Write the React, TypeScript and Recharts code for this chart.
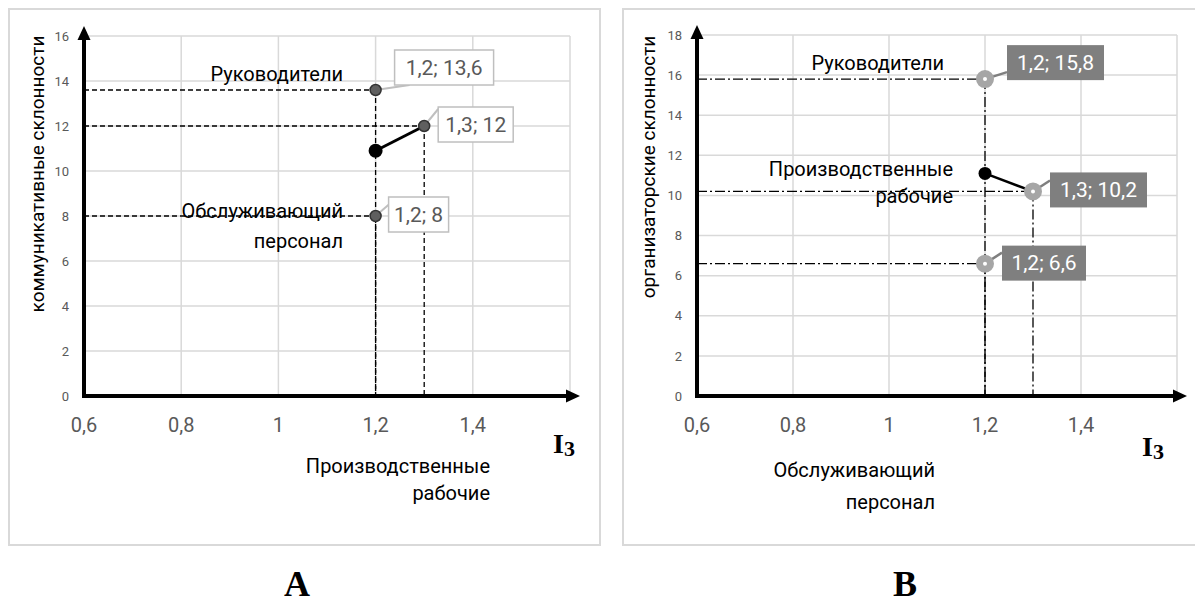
import React from 'react'
import { ScatterChart, Scatter, XAxis, YAxis, CartesianGrid, ReferenceLine } from 'recharts'

// shared axis ticks (I3 index)
const xTicks = [0.6, 0.8, 1, 1.2, 1.4, 1.6]
const yTicksA = [0, 2, 4, 6, 8, 10, 12, 14, 16]
const yTicksB = [0, 2, 4, 6, 8, 10, 12, 14, 16, 18]

// A: коммуникативные склонности
const leadersA = [{ x: 1.2, y: 13.6 }]
const workersA = [{ x: 1.2, y: 10.9 }, { x: 1.3, y: 12 }]
const serviceA = [{ x: 1.2, y: 8 }]

// B: организаторские склонности
const leadersB = [{ x: 1.2, y: 15.8 }]
const workersB = [{ x: 1.2, y: 11.1 }, { x: 1.3, y: 10.2 }]
const serviceB = [{ x: 1.2, y: 6.6 }]

const FONT = 'Roboto, "Noto Sans", sans-serif'
const SERIF = '"Liberation Serif", "DejaVu Serif", serif'
const GRAY = '#595959'

type Pt = { x: number; y: number }
const fmt = (v: number) => String(v).replace('.', ',')

// label box placement relative to the point (pixels)
type BoxCfg = { dx: number; dy: number; w: number; lx: number; ly: number }

const AxisArrow = (props: any) => {
  const { x1, y1, x2, y2 } = props
  const len = Math.hypot(x2 - x1, y2 - y1) || 1
  const ux = (x2 - x1) / len
  const uy = (y2 - y1) / len
  const tipX = x2 + ux * 10
  const tipY = y2 + uy * 10
  const bx = tipX - ux * 14
  const by = tipY - uy * 14
  const px = -uy * 6.5
  const py = ux * 6.5
  return (
    <g>
      <line x1={x1 - ux * 2} y1={y1 - uy * 2} x2={bx + ux} y2={by + uy} stroke="#000" strokeWidth={4} />
      <polygon points={`${tipX},${tipY} ${bx + px},${by + py} ${bx - px},${by - py}`} fill="#000" />
    </g>
  )
}

function makeShape(
  data: Pt[],
  labelFrom: number,
  cfg: BoxCfg,
  variant: 'A' | 'B',
  marker: (cx: number, cy: number) => React.ReactNode,
  startMarker?: (cx: number, cy: number) => React.ReactNode,
) {
  return (p: any) => {
    const pl = p.payload ?? p
    const i = data.findIndex((d) => d.x === pl.x && d.y === pl.y)
    const { cx, cy } = p
    if (i < labelFrom && startMarker) return <g>{startMarker(cx, cy)}</g>
    const text = `${fmt(pl.x)}; ${fmt(pl.y)}`
    const bx = cx + cfg.dx
    const by = cy + cfg.dy
    const h = 35
    return (
      <g>
        <line
          x1={cx}
          y1={cy}
          x2={bx + cfg.lx}
          y2={by + cfg.ly}
          stroke={variant === 'A' ? '#bfbfbf' : '#7f7f7f'}
          strokeWidth={variant === 'A' ? 2 : 2.5}
        />
        {marker(cx, cy)}
        <rect
          x={bx}
          y={by}
          width={cfg.w}
          height={h}
          fill={variant === 'A' ? '#fff' : '#7f7f7f'}
          stroke={variant === 'A' ? '#bfbfbf' : 'none'}
          strokeWidth={1.5}
        />
        <text
          x={bx + cfg.w / 2}
          y={by + h / 2}
          textAnchor="middle"
          dominantBaseline="central"
          fontFamily={FONT}
          fontSize={21}
          fill={variant === 'A' ? GRAY : '#fff'}
        >
          {text}
        </text>
      </g>
    )
  }
}

const grayDot = (cx: number, cy: number) => (
  <circle cx={cx} cy={cy} r={5.5} fill="#5f5f5f" stroke="#333" strokeWidth={1.5} />
)
const blackDot = (r: number) => (cx: number, cy: number) => <circle cx={cx} cy={cy} r={r} fill="#000" />
const ring = (cx: number, cy: number) => (
  <circle cx={cx} cy={cy} r={5.5} fill="#fff" stroke="#a6a6a6" strokeWidth={7} />
)

function dropLines(points: Pt[], dash: string, color: string) {
  const out: React.ReactNode[] = []
  points.forEach((pt, i) => {
    out.push(
      <ReferenceLine
        key={`h${i}`}
        segment={[{ x: 0.6, y: pt.y }, { x: pt.x, y: pt.y }]}
        stroke={color}
        strokeWidth={1.3}
        strokeDasharray={dash}
      />,
    )
    out.push(
      <ReferenceLine
        key={`v${i}`}
        segment={[{ x: pt.x, y: pt.y }, { x: pt.x, y: 0 }]}
        stroke={color}
        strokeWidth={1.3}
        strokeDasharray={dash}
      />,
    )
  })
  return out
}

type PanelProps = {
  left: number
  width: number
  margin: { top: number; right: number; bottom: number; left: number }
  yTicks: number[]
  yMax: number
  leaders: Pt[]
  workers: Pt[]
  service: Pt[]
  variant: 'A' | 'B'
}

function Panel({ left, width, margin, yTicks, yMax, leaders, workers, service, variant }: PanelProps) {
  const dash = variant === 'A' ? '5 3' : '10 3 2 3'
  const drops = [...leaders, workers[workers.length - 1], ...service]
  const isA = variant === 'A'
  const cfgLead: BoxCfg = isA ? { dx: 19, dy: -40, w: 99, lx: 15, ly: 35 } : { dx: 22, dy: -34, w: 97, lx: 0, ly: 27 }
  const cfgWork: BoxCfg = isA ? { dx: 14, dy: -19, w: 75, lx: 0, ly: 2 } : { dx: 17, dy: -19, w: 97, lx: 0, ly: 8 }
  const cfgServ: BoxCfg = isA ? { dx: 13, dy: -19, w: 60, lx: 2, ly: 6 } : { dx: 17, dy: -18, w: 84, lx: 0, ly: 7 }
  const marker = isA ? grayDot : ring
  return (
    <div style={{ position: 'absolute', left, top: 0, width, height: 538 }}>
      <div
        style={{
          position: 'absolute',
          inset: 0,
          border: '2px solid #d9d9d9',
          boxSizing: 'border-box',
        }}
      />
      <div style={{ position: 'absolute', left: 0, top: 0 }}>
        <ScatterChart width={width} height={538} margin={margin}>
          <CartesianGrid stroke="#d9d9d9" strokeWidth={1.5} />
          <XAxis
            type="number"
            dataKey="x"
            domain={[0.6, 1.6]}
            ticks={xTicks}
            interval={0}
            tickLine={false}
            axisLine={false}
            tickSize={0}
            tickMargin={22}
            height={30}
            tickFormatter={(v: number) => (v >= 1.6 ? '' : fmt(v))}
            tick={{ fill: GRAY, fontSize: 20, fontFamily: FONT }}
          />
          <YAxis
            type="number"
            dataKey="y"
            domain={[0, yMax]}
            ticks={yTicks}
            interval={0}
            tickLine={false}
            axisLine={false}
            tickSize={0}
            tickMargin={15}
            width={40}
            tick={{ fill: GRAY, fontSize: 13, fontFamily: FONT }}
          />
          {dropLines(drops, dash, '#000')}
          <ReferenceLine segment={[{ x: 0.6, y: 0 }, { x: 1.6, y: 0 }]} ifOverflow="visible" shape={AxisArrow} />
          <ReferenceLine segment={[{ x: 0.6, y: 0 }, { x: 0.6, y: yMax }]} ifOverflow="visible" shape={AxisArrow} />
          <Scatter
            data={leaders}
            isAnimationActive={false}
            shape={makeShape(leaders, 0, cfgLead, variant, marker)}
          />
          <Scatter
            data={service}
            isAnimationActive={false}
            shape={makeShape(service, 0, cfgServ, variant, marker)}
          />
          <Scatter
            data={workers}
            isAnimationActive={false}
            line={{ stroke: '#000', strokeWidth: isA ? 3 : 2.5 }}
            shape={makeShape(workers, 1, cfgWork, variant, marker, blackDot(isA ? 7 : 6.5))}
          />
        </ScatterChart>
      </div>
    </div>
  )
}

const abs = (s: React.CSSProperties): React.CSSProperties => ({ position: 'absolute', whiteSpace: 'nowrap', ...s })

export default function App() {
  return (
    <div style={{ position: 'relative', width: 1187, height: 596, fontFamily: FONT, color: '#000' }}>
      <Panel
        left={0}
        width={593}
        margin={{ top: 28, right: 31, bottom: 120, left: 36 }}
        yTicks={yTicksA}
        yMax={16}
        leaders={leadersA}
        workers={workersA}
        service={serviceA}
        variant="A"
      />
      <Panel
        left={614}
        width={575}
        margin={{ top: 27, right: 20, bottom: 120, left: 35 }}
        yTicks={yTicksB}
        yMax={18}
        leaders={leadersB}
        workers={workersB}
        service={serviceB}
        variant="B"
      />

      {/* panel A annotations */}
      <div style={abs({ left: 29, top: 166, fontSize: 19, transform: 'translate(-50%, -50%) rotate(-90deg)' })}>
        коммуникативные склонности
      </div>
      <div style={abs({ left: 135, top: 54, width: 200, textAlign: 'right', fontSize: 20 })}>Руководители</div>
      <div style={abs({ left: 135, top: 188, width: 200, textAlign: 'right', fontSize: 20, lineHeight: '30px' })}>
        Обслуживающий
        <br />
        персонал
      </div>
      <div style={abs({ left: 282, top: 445, width: 200, textAlign: 'right', fontSize: 20, lineHeight: '27px' })}>
        Производственные
        <br />
        рабочие
      </div>
      <div style={abs({ left: 545, top: 420, fontFamily: SERIF, fontWeight: 700, fontSize: 28 })}>
        I<span style={{ fontSize: 22, position: 'relative', top: 3 }}>3</span>
      </div>
      <div style={abs({ left: 289, top: 555, fontFamily: SERIF, fontWeight: 700, fontSize: 36, transform: 'translateX(-50%)' })}>
        A
      </div>

      {/* panel B annotations */}
      <div style={abs({ left: 640, top: 159, fontSize: 19, transform: 'translate(-50%, -50%) rotate(-90deg)' })}>
        организаторские склонности
      </div>
      <div style={abs({ left: 736, top: 43, width: 200, textAlign: 'right', fontSize: 20 })}>Руководители</div>
      <div style={abs({ left: 745, top: 148, width: 200, textAlign: 'right', fontSize: 20, lineHeight: '27px' })}>
        Производственные
        <br />
        рабочие
      </div>
      <div style={abs({ left: 727, top: 446, width: 200, textAlign: 'right', fontSize: 20, lineHeight: '32px' })}>
        Обслуживающий
        <br />
        персонал
      </div>
      <div style={abs({ left: 1134, top: 423, fontFamily: SERIF, fontWeight: 700, fontSize: 28 })}>
        I<span style={{ fontSize: 22, position: 'relative', top: 3 }}>3</span>
      </div>
      <div style={abs({ left: 897, top: 555, fontFamily: SERIF, fontWeight: 700, fontSize: 36, transform: 'translateX(-50%)' })}>
        B
      </div>
    </div>
  )
}
